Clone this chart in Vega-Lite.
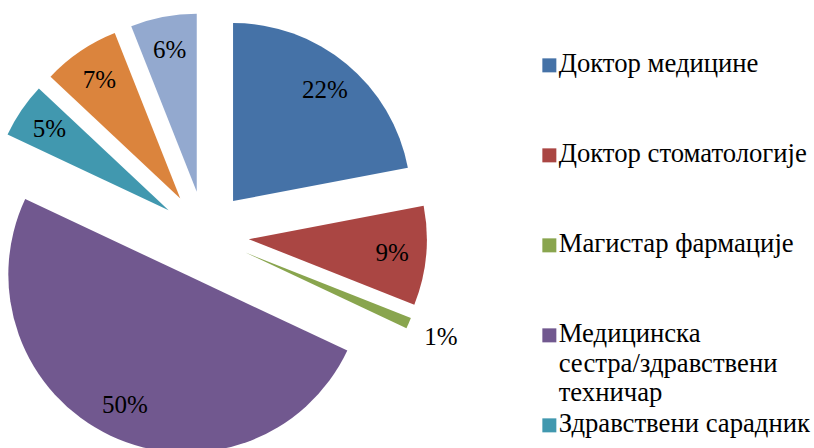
{
  "$schema": "https://vega.github.io/schema/vega-lite/v6.json",
  "width": 410,
  "height": 470,
  "padding": 0,
  "background": "white",
  "view": {"stroke": null},
  "data": {
    "values": [
      {"order": 1, "cat": "Доктор медицине", "value": 22},
      {"order": 2, "cat": "Доктор стоматологије", "value": 9},
      {"order": 3, "cat": "Магистар фармације", "value": 1},
      {"order": 4, "cat": "Медицинска сестра/здравствени техничар", "value": 50},
      {"order": 5, "cat": "Здравствени сарадник", "value": 5},
      {"order": 6, "cat": "Административни радници", "value": 7},
      {"order": 7, "cat": "Технички радници", "value": 6}
    ]
  },
  "transform": [
    {"joinaggregate": [{"op": "sum", "field": "value", "as": "total"}]},
    {"window": [{"op": "sum", "field": "value", "as": "cum"}], "sort": [{"field": "order", "order": "ascending"}], "frame": [null, 0]},
    {"calculate": "2*PI*(datum.cum - datum.value)/datum.total", "as": "start"},
    {"calculate": "2*PI*datum.cum/datum.total", "as": "end"},
    {"calculate": "(datum.start + datum.end)/2", "as": "mid"},
    {"calculate": "sin(datum.mid)", "as": "ux"},
    {"calculate": "-cos(datum.mid)", "as": "uy"},
    {"calculate": "datum.value/datum.total", "as": "pct"}
  ],
  "encoding": {
    "x": {"field": "ux", "type": "quantitative", "scale": {"domain": [-1, 1], "range": [161, 249]}, "axis": null},
    "y": {"field": "uy", "type": "quantitative", "scale": {"domain": [-1, 1], "range": [191, 279]}, "axis": null}
  },
  "layer": [
    {
      "mark": {"type": "arc", "radius": 178},
      "encoding": {
        "theta": {"field": "start", "type": "quantitative", "scale": null},
        "theta2": {"field": "end"},
        "color": {
          "field": "cat",
          "type": "nominal",
          "sort": null,
          "scale": {
            "domain": ["Доктор медицине", "Доктор стоматологије", "Магистар фармације", "Медицинска сестра/здравствени техничар", "Здравствени сарадник", "Административни радници", "Технички радници"],
            "range": ["#4572A7", "#AA4643", "#89A54E", "#71588F", "#4198AF", "#DB843D", "#93A9CF"]
          },
          "legend": {
            "orient": "none",
            "legendX": 536,
            "legendY": 52,
            "padding": 0,
            "title": null,
            "values": ["Доктор медицине", "Доктор стоматологије", "Магистар фармације", "Медицинска сестра/здравствени техничар", "Здравствени сарадник", "Административни радници", "Технички радници"],
            "symbolType": "square",
            "symbolSize": 196,
            "symbolStrokeWidth": 0,
            "labelFont": "Liberation Serif",
            "labelFontSize": 26.7,
            "labelColor": "black",
            "labelLimit": 400,
            "labelOffset": -4,
            "labelBaseline": "top",
            "gridAlign": "all",
            "rowPadding": 3,
            "labelExpr": "datum.label == 'Медицинска сестра/здравствени техничар' ? ['Медицинска', 'сестра/здравствени', 'техничар'] : datum.label",
            "encode": {
              "labels": {"update": {"dy": {"value": -14}, "lineHeight": {"value": 29.5}}}
            }
          }
        }
      }
    },
    {
      "transform": [{"filter": "datum.value >= 2"}],
      "mark": {"type": "text", "radius": 144, "font": "Liberation Serif", "fontSize": 25, "color": "black"},
      "encoding": {
        "theta": {"field": "mid", "type": "quantitative", "scale": null},
        "text": {"field": "pct", "type": "quantitative", "format": ".0%"}
      }
    },
    {
      "transform": [{"filter": "datum.value < 2"}],
      "mark": {"type": "text", "radius": 213, "font": "Liberation Serif", "fontSize": 25, "color": "black"},
      "encoding": {
        "theta": {"field": "mid", "type": "quantitative", "scale": null},
        "text": {"field": "pct", "type": "quantitative", "format": ".0%"}
      }
    }
  ]
}
